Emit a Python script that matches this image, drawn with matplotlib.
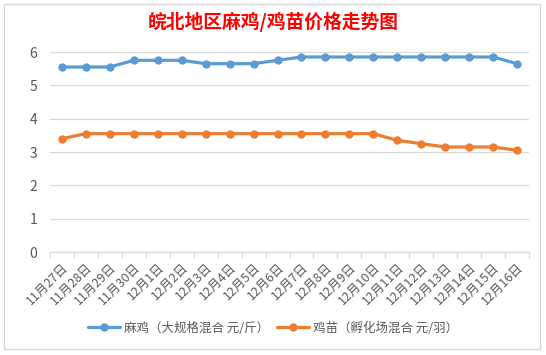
import matplotlib
matplotlib.use("Agg")
import matplotlib.pyplot as plt
from matplotlib.patches import Rectangle

plt.rcParams['font.family'] = ['Noto Sans CJK SC', 'DejaVu Sans']

title = "皖北地区麻鸡/鸡苗价格走势图"
dates = ["11月27日", "11月28日", "11月29日", "11月30日",
         "12月1日", "12月2日", "12月3日", "12月4日", "12月5日", "12月6日",
         "12月7日", "12月8日", "12月9日", "12月10日", "12月11日", "12月12日",
         "12月13日", "12月14日", "12月15日", "12月16日"]
maji_label = "麻鸡（大规格混合 元/斤）"
jimiao_label = "鸡苗（孵化场混合 元/羽）"
maji = [5.55, 5.55, 5.55, 5.75, 5.75, 5.75, 5.65, 5.65, 5.65, 5.75,
        5.85, 5.85, 5.85, 5.85, 5.85, 5.85, 5.85, 5.85, 5.85, 5.65]
jimiao = [3.4, 3.55, 3.55, 3.55, 3.55, 3.55, 3.55, 3.55, 3.55, 3.55,
          3.55, 3.55, 3.55, 3.55, 3.35, 3.25, 3.15, 3.15, 3.15, 3.05]
yticks = [0, 1, 2, 3, 4, 5, 6]

W, H = 546, 355
fig = plt.figure(figsize=(W / 100, H / 100), dpi=100)
fig.patch.set_facecolor('white')
fig.patches.append(Rectangle((4 / W, 1 - 349 / H), 536 / W, 345 / H,
                             transform=fig.transFigure, fill=False,
                             edgecolor='#D9D9D9', linewidth=1))

ax = fig.add_axes([50 / W, 1 - 252 / H, 479 / W, 200 / H])
x = list(range(len(dates)))
ax.plot(x, maji, color='#5B9BD5', linewidth=2.3, marker='o', markersize=5,
        label=maji_label, solid_capstyle='round')
ax.plot(x, jimiao, color='#ED7D31', linewidth=2.3, marker='o', markersize=5,
        label=jimiao_label, solid_capstyle='round')

ax.set_xlim(-0.5, len(dates) - 0.5)
ax.set_ylim(0, 6)
ax.set_yticks(yticks)
ax.set_yticklabels([str(v) for v in yticks], fontsize=10, color='#595959')
ax.yaxis.grid(True, color='#D9D9D9', linewidth=0.9)
ax.set_axisbelow(True)
ax.tick_params(axis='y', length=0, pad=9)

ax.set_xticks(x)
ax.set_xticklabels(dates, rotation=45, ha='right', va='top',
                   rotation_mode='anchor', fontsize=9, color='#595959')
ax.set_xticks([i - 0.5 for i in range(len(dates) + 1)], minor=True)
ax.tick_params(axis='x', which='major', length=0, pad=6)
ax.tick_params(axis='x', which='minor', length=4, color='#D9D9D9', width=0.9)

for s in ['top', 'right', 'left']:
    ax.spines[s].set_visible(False)
ax.spines['bottom'].set_color('#D9D9D9')
ax.spines['bottom'].set_linewidth(0.9)

fig.text(273 / W, 1 - 22 / H, title, ha='center', va='center',
         fontsize=13.5, fontweight='bold', color='#FF0000')

fig.legend(loc='center', bbox_to_anchor=(273 / W, 1 - 328 / H), ncol=2,
           frameon=False, fontsize=9, handlelength=2.6, columnspacing=0.6,
           handletextpad=0.3, labelcolor='#595959')

fig.savefig('out.png', dpi=100, facecolor='white')
